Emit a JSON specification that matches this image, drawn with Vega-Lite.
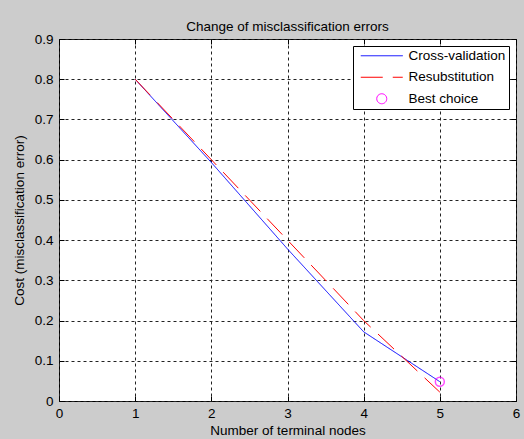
{
  "$schema": "https://vega.github.io/schema/vega-lite/v6.json",
  "width": 457,
  "height": 362,
  "autosize": {"type": "none"},
  "padding": {"left": 59, "top": 39, "right": 8, "bottom": 38},
  "background": "#cccccc",
  "title": {
    "text": "Change of misclassification errors",
    "font": "Liberation Sans",
    "fontSize": 13.5,
    "fontWeight": "normal",
    "color": "black",
    "baseline": "bottom",
    "offset": -15
  },
  "config": {
    "font": "Liberation Sans",
    "view": {"fill": "white", "stroke": "black", "strokeWidth": 1},
    "axis": {
      "labelFont": "Liberation Sans",
      "labelFontSize": 13.5,
      "labelColor": "black",
      "labelFlush": false,
      "titleFont": "Liberation Sans",
      "titleFontSize": 13.5,
      "titleFontWeight": "normal",
      "titleColor": "black",
      "domain": false,
      "ticks": true,
      "tickSize": -5,
      "tickColor": "black",
      "grid": true,
      "gridColor": "#222222",
      "gridDash": [3, 3],
      "gridOpacity": 1,
      "gridWidth": 1
    }
  },
  "data": {
    "values": [
      {"series": "Cross-validation", "nodes": 1, "cost": 0.80},
      {"series": "Cross-validation", "nodes": 2, "cost": 0.593},
      {"series": "Cross-validation", "nodes": 3, "cost": 0.378},
      {"series": "Cross-validation", "nodes": 4, "cost": 0.172},
      {"series": "Cross-validation", "nodes": 5, "cost": 0.048},
      {"series": "Resubstitution", "nodes": 1, "cost": 0.80},
      {"series": "Resubstitution", "nodes": 2, "cost": 0.60},
      {"series": "Resubstitution", "nodes": 3, "cost": 0.40},
      {"series": "Resubstitution", "nodes": 4, "cost": 0.20},
      {"series": "Resubstitution", "nodes": 5, "cost": 0.022},
      {"series": "Best choice", "nodes": 5, "cost": 0.048}
    ]
  },
  "layer": [
    {
      "transform": [{"filter": "datum.series !== 'Best choice'"}],
      "mark": {"type": "line", "strokeWidth": 1},
      "encoding": {
        "x": {
          "field": "nodes", "type": "quantitative",
          "scale": {"domain": [0, 6], "nice": false, "zero": false},
          "axis": {"orient": "bottom", "title": "Number of terminal nodes", "values": [0, 1, 2, 3, 4, 5, 6], "format": "~g", "labelPadding": 10, "titlePadding": 4}
        },
        "y": {
          "field": "cost", "type": "quantitative",
          "scale": {"domain": [0, 0.9], "nice": false},
          "axis": {"orient": "left", "title": "Cost (misclassification error)", "values": [0, 0.1, 0.2, 0.3, 0.4, 0.5, 0.6, 0.7, 0.8, 0.9], "format": "~g", "labelPadding": 11, "titlePadding": 8}
        },
        "color": {
          "field": "series", "type": "nominal",
          "scale": {"domain": ["Cross-validation", "Resubstitution", "Best choice"], "range": ["#0000ff", "#ff0000", "#ff00ff"]},
          "legend": {
            "title": null,
            "orient": "none",
            "legendX": 294,
            "legendY": 7,
            "padding": 3,
            "strokeColor": "black",
            "fillColor": "white",
            "labelFont": "Liberation Sans",
            "labelFontSize": 13.5,
            "labelColor": "black",
            "symbolSize": 100,
            "symbolStrokeWidth": 1,
            "symbolOffset": 19,
            "labelOffset": 20,
            "rowPadding": 6.5,
            "encode": {
              "symbols": {
                "update": {
                  "shape": {"signal": "datum.value === 'Best choice' ? 'M1,0A1,1,0,1,1,-1,0A1,1,0,1,1,1,0Z' : 'M-4.2,0L4.2,0'"},
                  "strokeDash": {"signal": "datum.value === 'Resubstitution' ? [13, 13] : [1, 0]"},
                  "fill": {"value": "transparent"}
                }
              }
            }
          }
        },
        "strokeDash": {
          "field": "series", "type": "nominal",
          "scale": {"domain": ["Cross-validation", "Resubstitution", "Best choice"], "range": [[1, 0], [22, 10], [1, 0]]},
          "legend": null
        }
      }
    },
    {
      "transform": [{"filter": "datum.series === 'Best choice'"}],
      "mark": {"type": "point", "shape": "circle", "filled": false, "size": 80, "strokeWidth": 1.5},
      "encoding": {
        "x": {
          "field": "nodes", "type": "quantitative",
          "axis": {"orient": "top", "title": null, "labels": false, "grid": false, "values": [0, 1, 2, 3, 4, 5, 6]}
        },
        "y": {
          "field": "cost", "type": "quantitative",
          "axis": {"orient": "right", "title": null, "labels": false, "grid": false, "values": [0, 0.1, 0.2, 0.3, 0.4, 0.5, 0.6, 0.7, 0.8, 0.9]}
        },
        "color": {"field": "series", "type": "nominal"}
      }
    }
  ],
  "resolve": {"axis": {"x": "independent", "y": "independent"}}
}
